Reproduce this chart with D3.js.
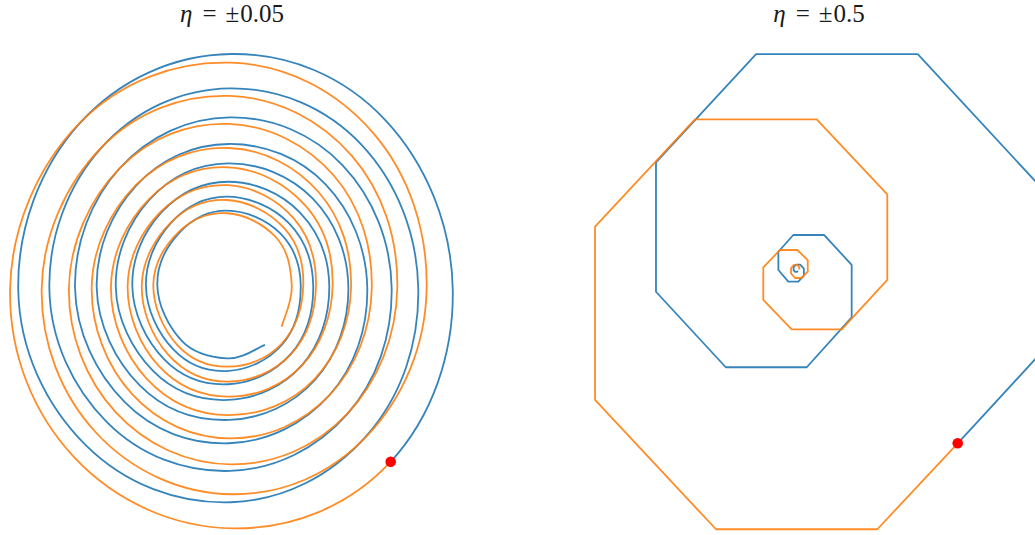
<!DOCTYPE html>
<html>
<head>
<meta charset="utf-8">
<script src="https://cdn.jsdelivr.net/npm/d3@7"></script>
<style>
  html, body { margin: 0; padding: 0; background: #ffffff; }
  svg { display: block; }
</style>
</head>
<body>
<svg id="chart" width="1035" height="535"></svg>
<script>
// ---- data ----
const panelTitles = ["±0.05", "±0.5"];
const startPoint = [1, -1];

// η = ±0.05 : points every eighth of a turn (axis crossings and diagonals)
const slowBlue = [[1,-1],[1.387,-0.013],[0.965,0.965],[0.004,1.343],[-0.942,0.942],[-1.322,-0.013],[-0.903,-0.903],[0.004,-1.233],[0.850,-0.850],
 [1.172,-0.007],[0.820,0.820],[-0.002,1.146],[-0.804,0.804],[-1.128,-0.007],[-0.771,-0.771],[-0.002,-1.053],[0.728,-0.728],
 [1.006,-0.002],[0.702,0.702],[-0.002,0.979],[-0.688,0.688],[-0.968,-0.002],[-0.658,-0.658],[-0.008,-0.894],[0.618,-0.618],
 [0.854,-0.002],[0.594,0.594],[-0.008,0.826],[-0.587,0.587],[-0.833,0.004],[-0.563,-0.563],[-0.008,-0.760],[0.529,-0.529],
 [0.736,0.004],[0.513,0.513],[-0.014,0.715],[-0.505,0.505],[-0.714,0.004],[-0.480,-0.480],[-0.014,-0.645],[0.446,-0.446],
 [0.617,0.010],[0.433,0.433],[-0.014,0.609],[-0.431,0.431],[-0.611,0.010],[-0.412,-0.412],[-0.014,-0.555],[0.379,-0.379],
 [0.517,0.010],[0.368,0.368],[-0.021,0.523],[-0.371,0.371],[-0.526,0.010],[-0.355,-0.355],[-0.021,-0.479],[0.325,-0.325],
 [0.439,0.016],[0.312,0.312],[-0.021,0.443],[-0.317,0.317],[-0.455,0.016],[-0.304,-0.304],[-0.021,-0.406],[0.216,-0.329]];
const slowOrange = [[1,-1],[0.017,-1.383],[-0.974,-0.974],[-1.373,-0.013],[-0.943,0.943],[0.004,1.293],[0.890,0.890],[1.224,-0.007],[0.852,-0.852],
 [0.011,-1.187],[-0.835,-0.835],[-1.176,-0.007],[-0.805,0.805],[-0.002,1.102],[0.758,0.758],[1.041,-0.002],[0.727,-0.727],
 [0.004,-1.015],[-0.715,-0.715],[-1.006,-0.002],[-0.688,0.688],[-0.008,0.941],[0.645,0.645],[0.882,-0.002],[0.618,-0.618],
 [-0.002,-0.866],[-0.612,-0.612],[-0.864,0.004],[-0.589,0.589],[-0.008,0.803],[0.550,0.550],[0.753,0.004],[0.525,-0.525],
 [-0.008,-0.732],[-0.522,-0.522],[-0.744,0.004],[-0.508,0.508],[-0.014,0.692],[0.470,0.470],[0.638,0.010],[0.447,-0.447],
 [-0.008,-0.626],[-0.448,-0.448],[-0.640,0.010],[-0.435,0.435],[-0.014,0.589],[0.397,0.397],[0.534,0.010],[0.380,-0.380],
 [-0.014,-0.540],[-0.386,-0.386],[-0.552,0.010],[-0.373,0.373],[-0.021,0.504],[0.339,0.339],[0.455,0.016],[0.321,-0.321],
 [-0.014,-0.454],[-0.330,-0.330],[-0.480,0.016],[-0.321,0.321],[-0.021,0.428],[0.287,0.287],[0.383,0.016],[0.320,-0.224]];

// η = ±0.5 : iterates (polygon vertices)
const fastBlue = [[1,-1],[1.5,-0.5],[1.5,0.49],[0.751,1.237],[-0.257,1.237],[-0.881,0.615],[-0.881,-0.129],[-0.446,-0.563],[0.059,-0.563],[0.339,-0.276],[0.339,0.025],[0.168,0.197],[-0.025,0.197],[-0.118,0.101],[-0.118,-0.004],[-0.056,-0.071],[0.006,-0.071],[0.041,-0.036],[0.041,0.004],[0.018,0.027],[-0.008,0.027],[-0.023,0.012],[-0.023,-0.005],[-0.013,-0.015],[-0.002,-0.015],[0.004,-0.009]];
const fastOrange = [[1,-1],[0.499,-1.494],[-0.507,-1.494],[-1.261,-0.751],[-1.261,0.245],[-0.638,0.862],[0.121,0.862],[0.561,0.431],[0.561,-0.061],[0.277,-0.345],[-0.035,-0.345],[-0.212,-0.176],[-0.212,0.011],[-0.108,0.111],[0,0.111],[0.065,0.053],[0.065,-0.014],[0.026,-0.05],[-0.014,-0.05],[-0.039,-0.024],[-0.039,0.007],[-0.021,0.025],[0,0.025],[0.012,0.013],[0.012,-0.001]];

// ---- layout ----
const svg = d3.select("#chart");
const W = 1035, H = 535;
svg.append("rect").attr("width", W).attr("height", H).attr("fill", "#ffffff");

const BLUE = "#1f77b4", ORANGE = "#ff7f0e";

const panels = [
  { cx: 230.3, cy: 287.7, sx: 160.4, sy: 174, titleX: 232, title: panelTitles[0],
    series: [slowBlue, slowOrange], smooth: true },
  { cx: 797.3, cy: 269.3, sx: 160.4, sy: 174, titleX: 819, title: panelTitles[1],
    series: [fastBlue, fastOrange], smooth: false }
];

panels.forEach(p => {
  const x = d3.scaleLinear().domain([-1.5, 1.5]).range([p.cx - 1.5 * p.sx, p.cx + 1.5 * p.sx]);
  const y = d3.scaleLinear().domain([-1.5, 1.5]).range([p.cy + 1.5 * p.sy, p.cy - 1.5 * p.sy]);
  const g = svg.append("g");
  const colors = [BLUE, ORANGE];
  p.series.forEach((s, i) => {
    let pts = s, curve = d3.curveLinear;
    if (p.smooth) {
      // both runs leave the start point in opposite directions along one smooth curve:
      // the other run's first step guides the tangent at the start; the open cardinal
      // curve does not draw that guide segment.
      const other = p.series[1 - i];
      pts = [other[1], ...s, s[s.length - 1]];
      curve = d3.curveCardinalOpen.tension(-0.125);
    }
    const line = d3.line().x(d => x(d[0])).y(d => y(d[1])).curve(curve);
    g.append("path")
      .datum(pts)
      .attr("d", line)
      .attr("fill", "none")
      .attr("stroke", colors[i])
      .attr("stroke-opacity", 0.9)
      .attr("stroke-width", 1.8)
      .attr("stroke-linejoin", "round");
  });
  g.append("circle")
    .attr("cx", x(startPoint[0]))
    .attr("cy", y(startPoint[1]))
    .attr("r", 5.3)
    .attr("fill", "#ff0000");

  const t = svg.append("text")
    .attr("x", p.titleX)
    .attr("y", 21.7)
    .attr("text-anchor", "middle")
    .attr("font-family", "'Liberation Serif', 'DejaVu Serif', serif")
    .attr("font-size", 25)
    .attr("fill", "#1a1a1a");
  t.append("tspan").attr("font-style", "italic").text("η");
  t.append("tspan").attr("dx", 10).text("=");
  t.append("tspan").attr("dx", 9).text("±");
  t.append("tspan").attr("dx", 1).text(p.title.slice(1));
});
</script>
</body>
</html>
